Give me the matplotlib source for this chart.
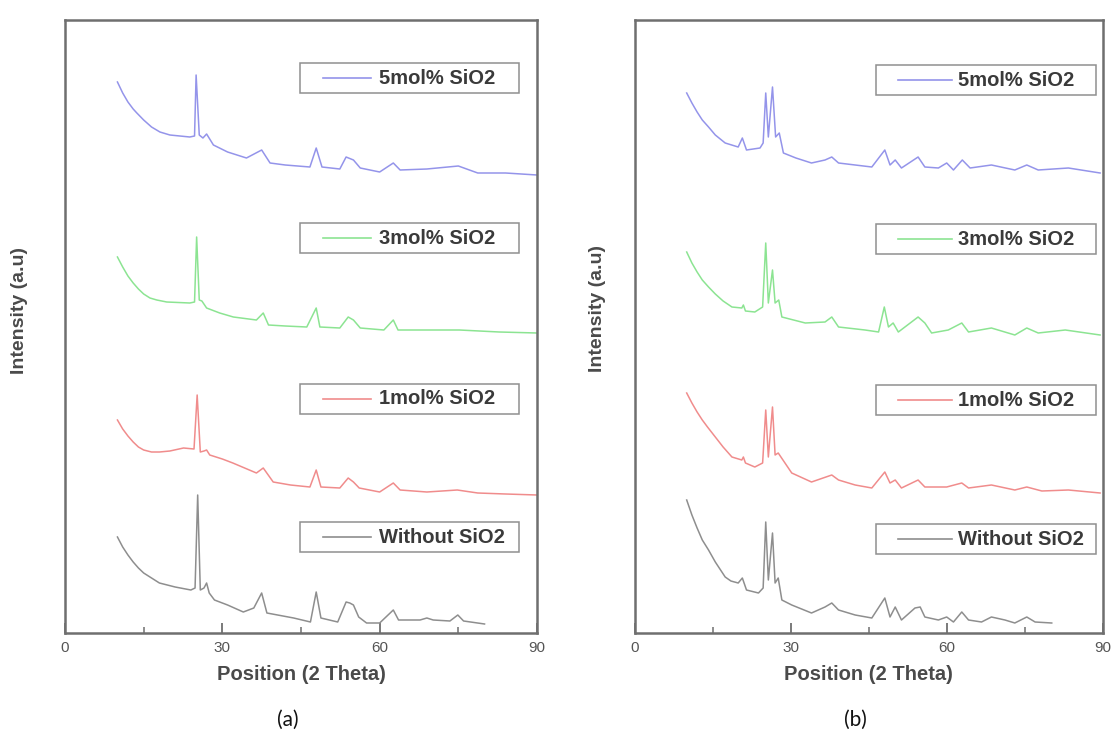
import matplotlib
matplotlib.use("Agg")
import matplotlib.pyplot as plt
from matplotlib.patches import Rectangle
from matplotlib.lines import Line2D
from matplotlib.ticker import MultipleLocator

# ---------------- data (2-theta in degrees, intensity in a.u., stacked) ----------------
series_labels = ["5mol% SiO2", "3mol% SiO2", "1mol% SiO2", "Without SiO2"]
series_colors = ["#9494ea", "#8ce492", "#f08c8c", "#8e8e8e"]

# panel (a)
a_5mol_theta = [10, 11, 12, 13, 13.7, 15, 16.5, 18.1, 20, 23.8, 24.7, 25.0, 25.6, 26.3, 27.0, 28.3,
                31, 34.6, 37.5, 39.1, 42, 46.7, 47.9, 49.0, 52.4, 53.6, 55.0, 56.3, 60, 62.6,
                63.9, 69, 75, 78.7, 84, 90]
a_5mol_I = [551, 540, 531, 524, 520, 513, 506, 501, 498, 496, 497, 558, 498, 495, 499, 488,
            481, 475, 483, 470, 468, 466, 485, 466, 464, 476, 473, 465, 461, 470,
            463, 464, 467, 460, 460, 458]

a_3mol_theta = [10, 11, 12, 13, 14, 15, 16.2, 17.5, 19.4, 23.8, 24.7, 25.1, 25.6, 26.1, 27.0, 29.5,
                32.1, 36.5, 37.8, 38.8, 42, 46.1, 47.9, 48.6, 52.4, 54.0, 55.0, 56.3, 60.8, 62.6,
                63.5, 70.1, 75.2, 82.8, 90]
a_3mol_I = [376, 366, 357, 350, 344, 339, 335, 333, 331, 330, 331, 396, 333, 332, 325, 320,
            316, 313, 320, 308, 307, 306, 325, 306, 305, 316, 313, 305, 303, 313,
            303, 303, 303, 301, 300]

a_1mol_theta = [10, 11, 12, 13, 14, 15, 16.5, 18, 20, 22.6, 24.6, 25.2, 25.8, 26.5, 27.0, 27.6, 30,
                32, 36.5, 37.8, 39.7, 43, 46.7, 47.9, 48.8, 52.4, 54.0, 55.0, 56.1, 60, 62.6,
                63.9, 69, 74.8, 78.7, 84, 90]
a_1mol_I = [213, 204, 197, 191, 186, 183, 181, 181, 182, 185, 184, 238, 181, 182, 183, 178, 174,
            170, 160, 165, 151, 148, 146, 163, 146, 145, 155, 151, 145, 141, 150,
            143, 141, 143, 140, 139, 138]

a_none_theta = [10, 11, 12, 13, 14, 15, 16.5, 18, 21, 24, 24.8, 25.3, 25.8, 26.5, 27.0, 27.5, 28.5,
                31, 34, 36, 37.5, 38.5, 43.6, 46.8, 47.9, 48.8, 52, 53.6, 54.3, 55.0, 56, 57.5,
                60, 62.6, 63.6, 67.7, 69, 70.2, 73.4, 74.9, 76, 80]
a_none_I = [96, 86, 78, 71, 65, 60, 55, 50, 46, 43, 45, 138, 43, 45, 50, 40, 33,
            28, 21, 25, 40, 20, 15, 11, 41, 15, 11, 31, 30, 28, 16, 10,
            10, 23, 13, 13, 15, 13, 12, 18, 12, 9]

# panel (b)
b_5mol_theta = [10, 11, 12, 13, 14.2, 15.5, 17.4, 19.9, 20.7, 21.5, 24.1, 24.7, 25.2, 25.7, 26.5,
                27.1, 27.8, 28.6, 31, 34.0, 36.6, 37.9, 39.2, 45.6, 48.1, 49.1, 50.1, 51.3, 54.5,
                55.8, 58.4, 60.0, 61.3, 63.0, 64.5, 68.6, 73.1, 75.4, 77.6, 83.4, 89.5]
b_5mol_I = [540, 530, 521, 513, 506, 498, 490, 486, 495, 483, 485, 490, 540, 496, 546,
            496, 500, 480, 475, 470, 473, 476, 470, 466, 483, 468, 473, 465, 476,
            466, 465, 470, 463, 473, 465, 468, 463, 468, 463, 465, 460]

b_3mol_theta = [10, 11, 12, 13, 14.2, 15.5, 17, 18.7, 20.6, 20.9, 21.3, 23.1, 24.6, 25.2, 25.7,
                26.5, 27.0, 27.7, 28.3, 32.8, 36.6, 37.9, 39.2, 44.3, 46.9, 48.0, 48.8, 49.7,
                50.7, 54.5, 55.8, 57.1, 60.3, 62.9, 64.2, 68.6, 73.1, 75.4, 77.6, 82.8, 89.5]
b_3mol_I = [381, 370, 361, 353, 346, 339, 332, 326, 325, 328, 322, 321, 326, 390, 330,
            363, 330, 333, 316, 310, 311, 316, 306, 303, 301, 326, 306, 310,
            301, 316, 310, 300, 303, 310, 301, 305, 298, 305, 300, 303, 298]

b_1mol_theta = [10, 11, 12, 13, 14.0, 15.5, 17, 18.7, 20.6, 20.9, 21.3, 23.1, 24.6, 25.2, 25.7,
                26.5, 27.0, 27.6, 30.2, 34.0, 37.9, 39.2, 42.4, 45.6, 48.1, 49.1, 50.1, 51.3,
                54.5, 55.8, 60.0, 62.9, 64.2, 68.6, 73.1, 75.4, 78.3, 83.4, 89.5]
b_1mol_I = [240, 230, 221, 213, 206, 196, 186, 176, 173, 176, 170, 166, 170, 223, 176,
            226, 178, 180, 160, 151, 158, 153, 148, 145, 161, 150, 153, 145,
            153, 146, 146, 150, 145, 148, 143, 146, 142, 143, 140]

b_none_theta = [10, 11, 12, 13, 14.2, 15.5, 17.4, 18.5, 19.9, 20.7, 21.5, 23.8, 24.7, 25.2, 25.7,
                26.5, 27.0, 27.6, 28.3, 30.2, 34.0, 36.6, 37.9, 39.2, 42.4, 45.6, 48.1, 49.1,
                50.1, 51.3, 53.9, 54.9, 55.8, 58.4, 60.0, 61.3, 62.9, 64.2, 66.7, 68.6, 71.2,
                73.1, 75.4, 77.0, 80.2]
b_none_I = [133, 118, 105, 93, 83, 71, 56, 52, 50, 55, 43, 40, 45, 111, 53,
            100, 50, 55, 33, 28, 20, 26, 30, 23, 18, 15, 35, 16,
            26, 13, 25, 26, 16, 13, 16, 11, 21, 13, 11, 16, 13,
            10, 16, 11, 10]

x_ticks = [0, 30, 60, 90]
x_label = "Position (2 Theta)"
y_label = "Intensity (a.u)"
panel_tags = ["(a)", "(b)"]

panels = [
    [(a_5mol_theta, a_5mol_I), (a_3mol_theta, a_3mol_I), (a_1mol_theta, a_1mol_I), (a_none_theta, a_none_I)],
    [(b_5mol_theta, b_5mol_I), (b_3mol_theta, b_3mol_I), (b_1mol_theta, b_1mol_I), (b_none_theta, b_none_I)],
]

# ---------------- layout ----------------
W, H = 1115, 745
fig = plt.figure(figsize=(W / 100, H / 100), dpi=100)
plt.rcParams["font.family"] = ["Liberation Sans", "DejaVu Sans"]

axes_px = [(65, 20, 472, 613), (634.7, 20, 468, 613)]  # left, top, width, height in px
legend_geo = [
    dict(x0=0.497, x1=0.962, h0=0.547, h1=0.649, tx=0.665, yc=[0.905, 0.644, 0.382, 0.156]),
    dict(x0=0.516, x1=0.986, h0=0.563, h1=0.677, tx=0.690, yc=[0.902, 0.642, 0.380, 0.153]),
]
ylabel_pos = [(20, 310), (598, 308)]
tag_pos = [(288, 720), (855, 720)]
box_h = 0.049
spine_col = "#6f6f6f"

for p, (series, (l, t, w, h)) in enumerate(zip(panels, axes_px)):
    ax = fig.add_axes([l / W, (H - t - h) / H, w / W, h / H])
    for (th, inten), col in zip(series, series_colors):
        ax.plot(th, inten, color=col, lw=1.1, solid_joinstyle="round")
    ax.set_xlim(0, 90)
    ax.set_ylim(0, 613)
    ax.set_xticks(x_ticks)
    ax.xaxis.set_minor_locator(MultipleLocator(15))
    ax.set_yticks([])
    ax.tick_params(axis="x", which="major", direction="in", length=7, width=1.3,
                   color=spine_col, labelcolor="#555555", labelsize=11, pad=6)
    ax.tick_params(axis="x", which="minor", direction="in", length=4, width=1.1, color=spine_col)
    for s in ax.spines.values():
        s.set_color(spine_col)
        s.set_linewidth(1.8)
    ax.set_xlabel(x_label, fontsize=14.5, fontweight="bold", color="#4a4a4a")
    ax.xaxis.label.set_verticalalignment("center")
    ax.xaxis.set_label_coords(0.5, -(674 - 633) / h)

    # legends (one boxed entry per curve, Origin style)
    g = legend_geo[p]
    for lab, col, yc in zip(series_labels, series_colors, g["yc"]):
        ax.add_patch(Rectangle((g["x0"], yc - box_h / 2), g["x1"] - g["x0"], box_h,
                               transform=ax.transAxes, facecolor="white",
                               edgecolor="#8f8f8f", lw=1.1, zorder=5))
        ax.add_line(Line2D([g["h0"], g["h1"]], [yc, yc], transform=ax.transAxes,
                           color=col, lw=1.2, zorder=6))
        ax.text(g["tx"], yc, lab, transform=ax.transAxes, ha="left", va="center",
                fontsize=14.5, fontweight="bold", color="#3a3a3a", zorder=6)

    fig.text(ylabel_pos[p][0] / W, 1 - ylabel_pos[p][1] / H, y_label, rotation=90,
             ha="center", va="center", fontsize=14, fontweight="bold", color="#4a4a4a")
    fig.text(tag_pos[p][0] / W, 1 - tag_pos[p][1] / H, panel_tags[p],
             ha="center", va="center", fontsize=15, color="#111111",
             family=["Lato", "DejaVu Sans"])

fig.savefig("out.png", dpi=100)
